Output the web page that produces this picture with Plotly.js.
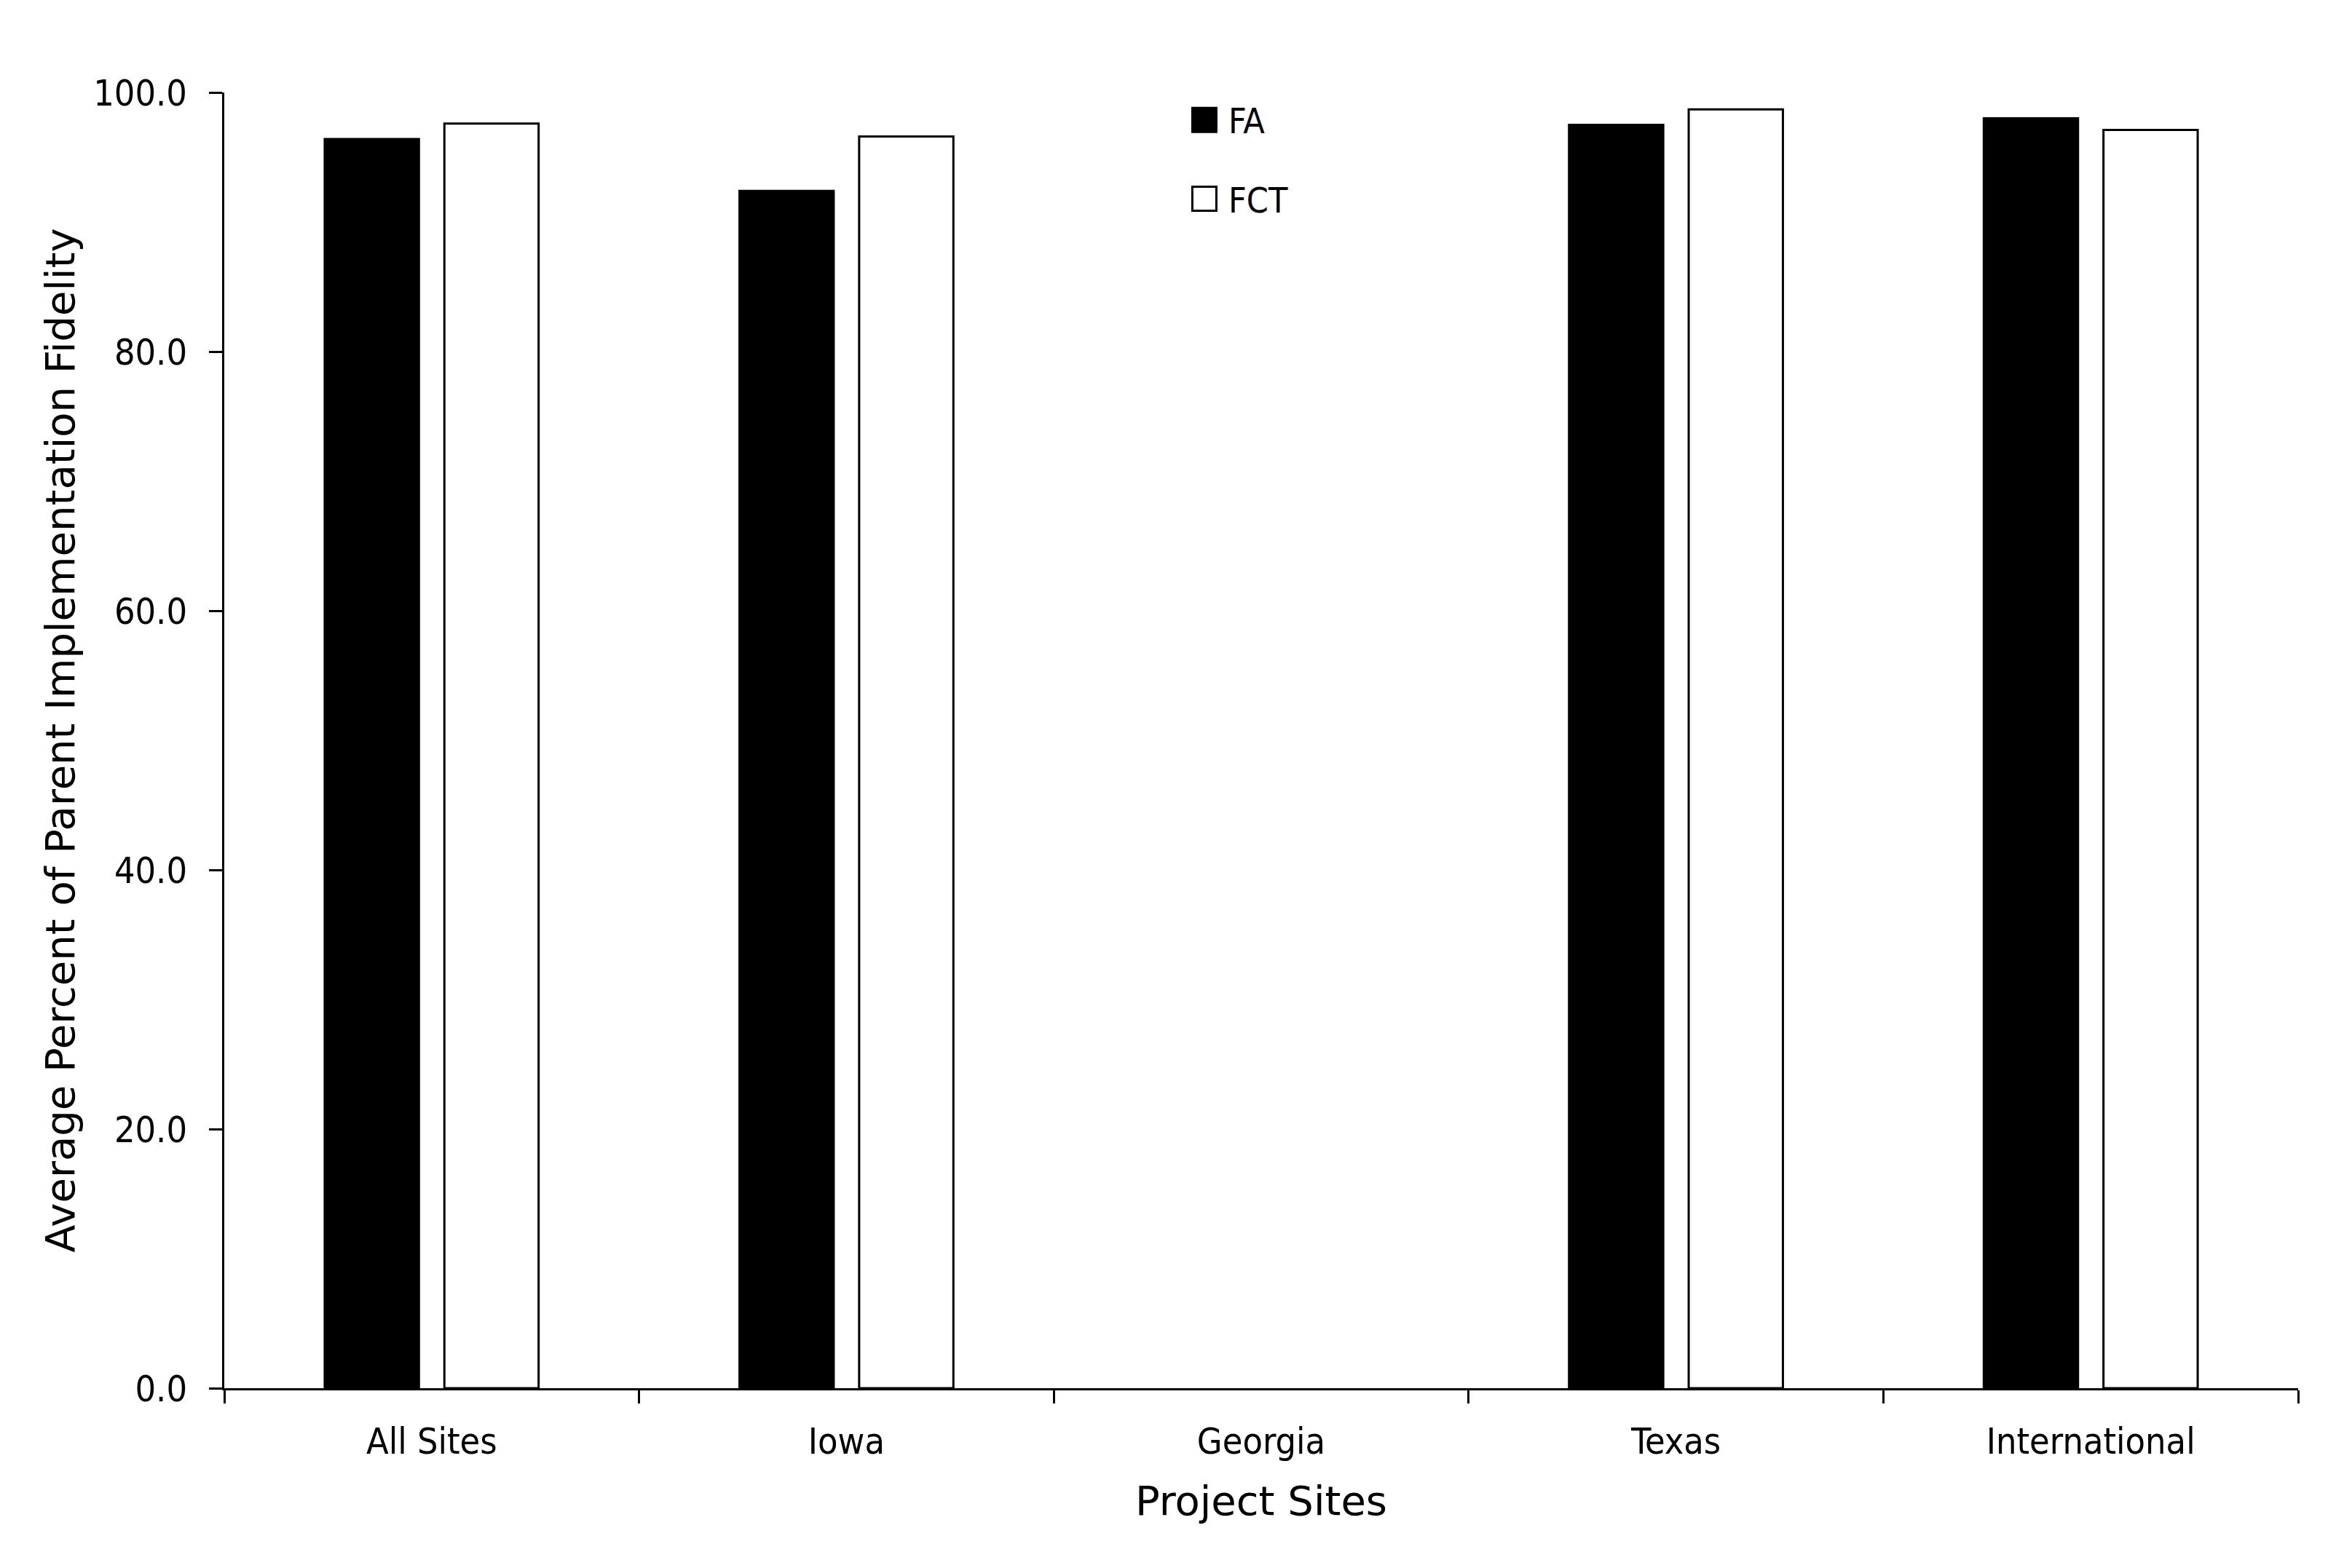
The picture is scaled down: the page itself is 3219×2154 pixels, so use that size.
<!DOCTYPE html>
<html>
<head>
<meta charset="utf-8">
<script src="https://cdn.plot.ly/plotly-3.0.1.min.js"></script>
<style>html,body{margin:0;padding:0;background:#fff;}</style>
</head>
<body>
<div id="chart" style="width:3219px;height:2154px;"></div>
<script>
// Data
const sites = ["All Sites", "Iowa", "Georgia", "Texas", "International"];
const faValues = [96.4, 92.4, null, 97.5, 98.0];
const fctValues = [97.6, 96.6, null, 98.7, 97.1];
const seriesNames = ["FA", "FCT"];
const yTickVals = [0, 20, 40, 60, 80, 100];

const tickFont = {family: "DejaVu Sans Condensed, DejaVu Sans, sans-serif", size: 50, color: "#000"};
const legendFont = {family: "DejaVu Sans Condensed, DejaVu Sans, sans-serif", size: 48, color: "#000"};
const titleFont = {family: "DejaVu Sans, sans-serif", size: 56, color: "#000"};

const traces = [
  {
    type: "bar", name: seriesNames[0], x: sites, y: faValues, legendgroup: "a",
    marker: {color: "#000000", line: {color: "#000000", width: 3}}
  },
  {
    type: "bar", name: seriesNames[1], x: sites, y: fctValues, legendgroup: "b",
    marker: {color: "#ffffff", line: {color: "#000000", width: 3}}
  }
];

const layout = {
  width: 3219, height: 2154,
  paper_bgcolor: "#ffffff", plot_bgcolor: "#ffffff",
  margin: {l: 308, r: 63, t: 127, b: 247},
  barmode: "group", bargap: 0.423, bargroupgap: 0.2125,
  font: tickFont,
  showlegend: true,
  legend: {
    x: 0.461, y: 1.0, xanchor: "left", yanchor: "top",
    font: legendFont, bgcolor: "rgba(0,0,0,0)", borderwidth: 0,
    itemwidth: 56, tracegroupgap: 43, traceorder: "grouped"
  },
  xaxis: {
    type: "category", tickson: "boundaries",
    showline: true, linecolor: "#000", linewidth: 3,
    ticks: "outside", ticklen: 18, tickwidth: 3, tickcolor: "#000",
    showgrid: false, zeroline: false, tickfont: tickFont,
    ticklabelstandoff: 27,
    title: {text: "Project Sites", font: titleFont, standoff: 34}
  },
  yaxis: {
    range: [0, 100], tickvals: yTickVals, tickformat: ".1f",
    showline: true, linecolor: "#000", linewidth: 3,
    ticks: "outside", ticklen: 18, tickwidth: 3, tickcolor: "#000",
    showgrid: false, zeroline: false, tickfont: tickFont,
    ticklabelstandoff: 20,
    title: {text: "Average Percent of Parent Implementation Fidelity", font: titleFont, standoff: 8}
  }
};

Plotly.newPlot("chart", traces, layout, {displayModeBar: false, staticPlot: true}).then(function (gd) {
  // enlarge legend swatches to match the reference
  gd.querySelectorAll(".legend .legendpoints path").forEach(function (p) {
    const t = p.getAttribute("transform") || "";
    p.setAttribute("transform", t + " scale(2.75)");
    p.style.vectorEffect = "non-scaling-stroke";
    p.style.strokeWidth = "3px";
  });
});
</script>
</body>
</html>
